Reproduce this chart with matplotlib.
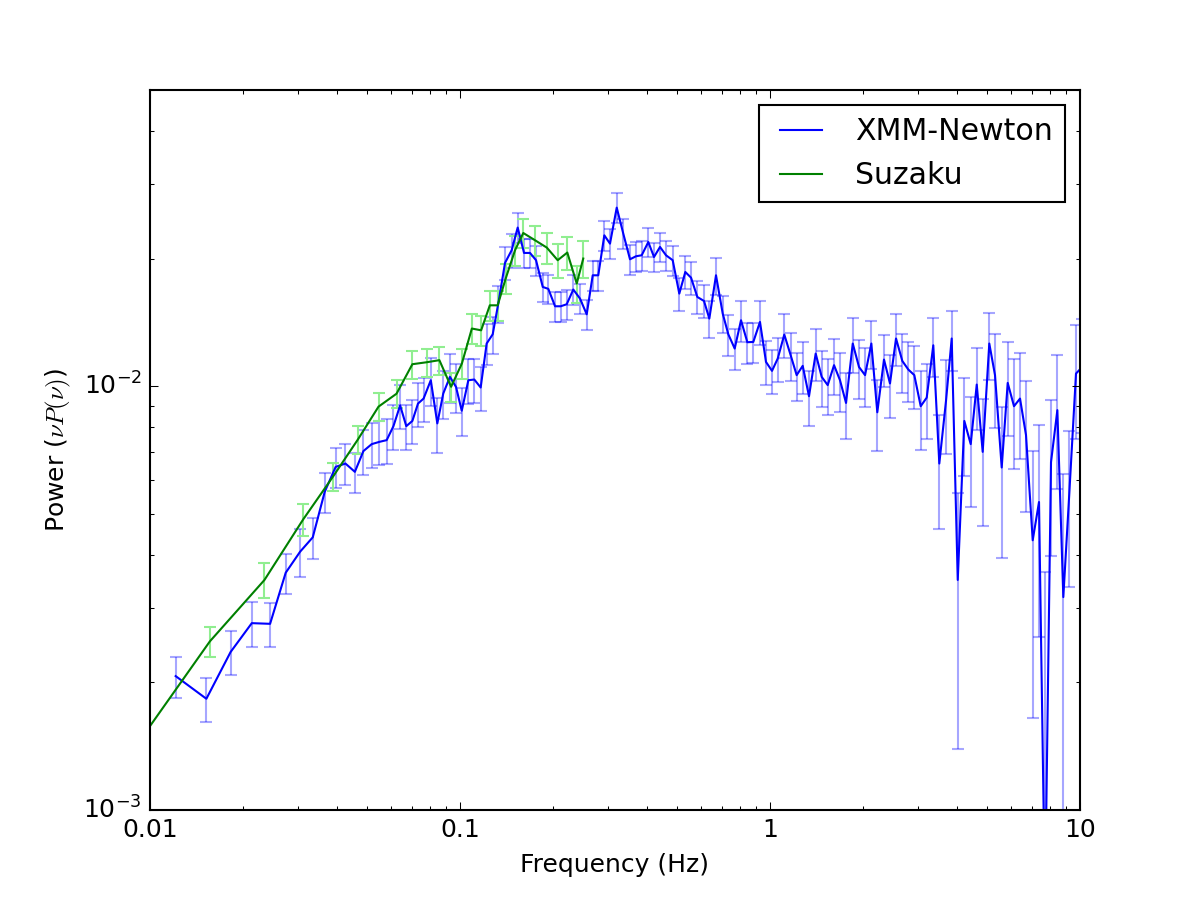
import numpy as np
import matplotlib
matplotlib.use("Agg")
import matplotlib.pyplot as plt

plt.style.use('classic')
plt.rcParams['axes.unicode_minus'] = False

# XMM-Newton power spectrum (Hz, nu*P(nu), fractional 1-sigma error)
xmm_freq = [0.0121, 0.0152, 0.0182, 0.0213, 0.0244, 0.0274, 0.0305, 0.0335, 0.0366, 0.0397,
            0.0427, 0.0458, 0.0488, 0.0519, 0.0549, 0.0580, 0.0610, 0.0641, 0.0671, 0.0702,
            0.0732, 0.0763, 0.0805, 0.0845, 0.0883, 0.0928, 0.0971, 0.1013, 0.1064, 0.1112,
            0.1166, 0.1219, 0.1275, 0.1329, 0.1397, 0.1468, 0.1535, 0.1609, 0.1682, 0.1759,
            0.1849, 0.1927, 0.2026, 0.2113, 0.2209, 0.2320, 0.2438, 0.2563, 0.2680, 0.2793,
            0.2921, 0.3047, 0.3203, 0.3363, 0.3535, 0.3696, 0.3856, 0.4050, 0.4225, 0.4418,
            0.4619, 0.4854, 0.5098, 0.5331, 0.5562, 0.5829, 0.6125, 0.6372, 0.6696, 0.7038,
            0.7337, 0.7693, 0.8063, 0.8450, 0.8834, 0.9283, 0.9707, 1.015, 1.059, 1.112,
            1.166, 1.219, 1.275, 1.336, 1.404, 1.468, 1.535, 1.609, 1.682, 1.759,
            1.849, 1.937, 2.026, 2.123, 2.219, 2.332, 2.438, 2.550, 2.672, 2.793,
            2.921, 3.063, 3.203, 3.363, 3.517, 3.696, 3.856, 4.033, 4.235, 4.441,
            4.644, 4.854, 5.098, 5.319, 5.590, 5.845, 6.125, 6.405, 6.696, 7.038,
            7.375, 7.712, 8.063, 8.452, 8.835, 9.237, 9.707, 10.15]
xmm_power = [0.00207, 0.00183, 0.00236, 0.00276, 0.00275, 0.00363, 0.00407, 0.00440, 0.00563, 0.00645,
             0.00657, 0.00628, 0.00703, 0.00730, 0.00739, 0.00746, 0.00805, 0.00901, 0.00805, 0.00828,
             0.00910, 0.00935, 0.01033, 0.00817, 0.00961, 0.01052, 0.00996, 0.00875, 0.01033, 0.01037,
             0.00993, 0.01261, 0.01326, 0.01567, 0.01954, 0.02094, 0.02368, 0.02063, 0.02063, 0.01983,
             0.01715, 0.01697, 0.01544, 0.01544, 0.01561, 0.01691, 0.01610, 0.01478, 0.01827, 0.01827,
             0.02270, 0.02170, 0.02639, 0.02291, 0.01993, 0.02026, 0.02037, 0.02189, 0.02018, 0.02131,
             0.02037, 0.01983, 0.01654, 0.01860, 0.01804, 0.01624, 0.01589, 0.01444, 0.01827, 0.01484,
             0.01326, 0.01227, 0.01431, 0.01270, 0.01272, 0.01418, 0.01141, 0.01087, 0.01162, 0.01324,
             0.01183, 0.01062, 0.01117, 0.00947, 0.01194, 0.01052, 0.01006, 0.01121, 0.01033, 0.00913,
             0.01261, 0.01110, 0.01062, 0.01261, 0.00868, 0.01156, 0.01015, 0.01296, 0.01147, 0.01095,
             0.01062, 0.00897, 0.00940, 0.01249, 0.00657, 0.00923, 0.01296, 0.00349, 0.00828, 0.00730,
             0.01009, 0.00700, 0.01261, 0.01062, 0.00643, 0.01018, 0.00897, 0.00935, 0.00767, 0.00433,
             0.00533, 0.00060, 0.00662, 0.00878, 0.00318, 0.00559, 0.01071, 0.01109]
xmm_rel_err = [0.11, 0.12, 0.12, 0.12, 0.12, 0.11, 0.13, 0.11, 0.11, 0.11,
               0.11, 0.11, 0.12, 0.12, 0.12, 0.12, 0.12, 0.12, 0.12, 0.12,
               0.12, 0.12, 0.13, 0.15, 0.13, 0.13, 0.13, 0.13, 0.12, 0.12,
               0.12, 0.11, 0.10, 0.10, 0.09, 0.09, 0.08, 0.08, 0.08, 0.08,
               0.08, 0.08, 0.08, 0.08, 0.08, 0.08, 0.08, 0.08, 0.08, 0.08,
               0.08, 0.08, 0.08, 0.08, 0.08, 0.08, 0.08, 0.08, 0.08, 0.08,
               0.08, 0.08, 0.09, 0.09, 0.09, 0.09, 0.09, 0.10, 0.10, 0.10,
               0.11, 0.11, 0.11, 0.11, 0.11, 0.12, 0.12, 0.12, 0.12, 0.12,
               0.13, 0.13, 0.14, 0.15, 0.14, 0.15, 0.15, 0.15, 0.16, 0.18,
               0.15, 0.16, 0.16, 0.13, 0.19, 0.14, 0.17, 0.14, 0.16, 0.16,
               0.17, 0.21, 0.20, 0.16, 0.30, 0.25, 0.16, 0.60, 0.26, 0.29,
               0.22, 0.33, 0.18, 0.25, 0.39, 0.25, 0.29, 0.28, 0.34, 0.62,
               0.52, 5.07, 0.40, 0.35, 0.95, 0.40, 0.30, 0.30]

# Suzaku power spectrum
suzaku_freq = [0.0078, 0.0156, 0.0234, 0.0312, 0.0390, 0.0468, 0.0546, 0.0624, 0.0702, 0.0780,
               0.0858, 0.0936, 0.1014, 0.1092, 0.1170, 0.1248, 0.1323, 0.1404, 0.1505, 0.1600,
               0.1746, 0.1905, 0.2066, 0.2219, 0.2380, 0.2498]
suzaku_power = [0.00122, 0.00250, 0.00349, 0.00485, 0.00613, 0.00748, 0.00895, 0.00960, 0.01127, 0.01139,
                0.01152, 0.00997, 0.01131, 0.01368, 0.01355, 0.01552, 0.01552, 0.01795, 0.02094, 0.02299,
                0.02210, 0.02124, 0.01983, 0.02067, 0.01747, 0.02001]
suzaku_rel_err = [0.08, 0.08, 0.095, 0.085, 0.075, 0.075, 0.077, 0.075, 0.075, 0.075,
                  0.075, 0.08, 0.08, 0.08, 0.08, 0.08, 0.08, 0.08, 0.08, 0.08,
                  0.08, 0.085, 0.09, 0.09, 0.10, 0.10]

xtick_vals = [0.01, 0.1, 1, 10]
xtick_labels = ['0.01', '0.1', '1', '10']

xmm_err = np.array(xmm_power) * np.array(xmm_rel_err)
suzaku_err = np.array(suzaku_power) * np.array(suzaku_rel_err)

fig = plt.figure(figsize=(8, 6), dpi=150)
ax = fig.add_subplot(111)

ax.errorbar(xmm_freq, xmm_power, yerr=xmm_err, fmt='none', ecolor='b', alpha=0.35, capthick=1)
ax.errorbar(suzaku_freq, suzaku_power, yerr=suzaku_err, fmt='none', ecolor='#90ee90', capthick=1)
ax.plot(xmm_freq, xmm_power, 'b-', label='XMM-Newton')
ax.plot(suzaku_freq, suzaku_power, 'g-', label='Suzaku')

ax.set_xscale('log')
ax.set_yscale('log')
ax.set_xlim(0.01, 10)
ax.set_ylim(1e-3, 0.05)
ax.set_xticks(xtick_vals)
ax.set_xticklabels(xtick_labels)
ax.set_xlabel('Frequency (Hz)')
ax.set_ylabel(r'Power ($\nu P(\nu)$)')
ax.legend(loc='upper right')

fig.savefig('out.png', dpi=150, facecolor='white')
